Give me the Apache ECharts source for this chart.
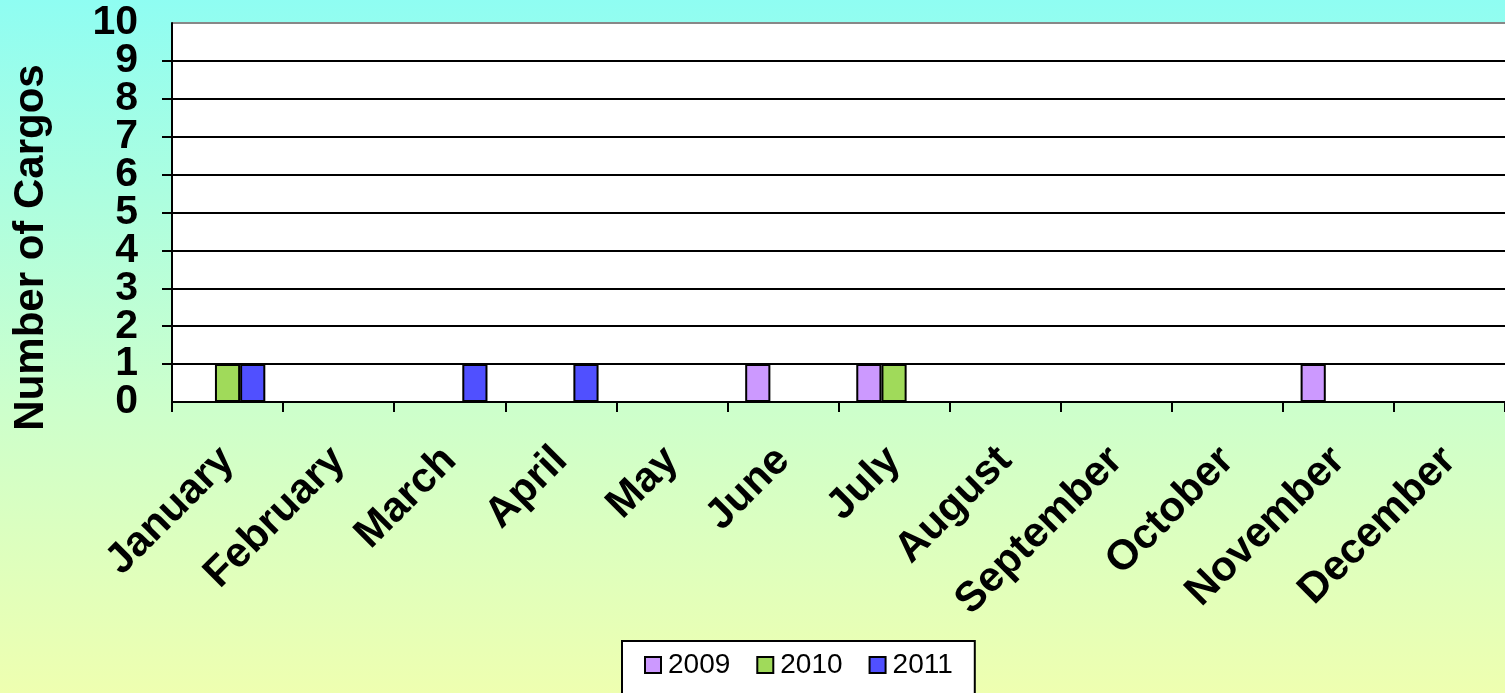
<!DOCTYPE html>
<html>
<head>
<meta charset="utf-8">
<script src="https://cdn.jsdelivr.net/npm/echarts@6/dist/echarts.min.js"></script>
<style>
  html, body { margin: 0; padding: 0; }
  #chart { width: 1505px; height: 693px; }
</style>
</head>
<body>
<div id="chart"></div>
<script>
// months on the x axis
const months = ['January', 'February', 'March', 'April', 'May', 'June',
  'July', 'August', 'September', 'October', 'November', 'December'];

// cargos per month, one array per year
const cargos2009 = [0, 0, 0, 0, 0, 1, 1, 0, 0, 0, 1, 0];
const cargos2010 = [1, 0, 0, 0, 0, 0, 1, 0, 0, 0, 0, 0];
const cargos2011 = [1, 0, 1, 1, 0, 0, 0, 0, 0, 0, 0, 0];

const yTicks = [0, 1, 2, 3, 4, 5, 6, 7, 8, 9, 10];
const yMin = yTicks[0];
const yMax = yTicks[yTicks.length - 1];

const chart = echarts.init(document.getElementById('chart'));

const barStyle = (color) => ({
  color: color,
  borderColor: '#000',
  borderWidth: 2
});

const labelStyle = {
  margin: 34,
  fontSize: 41,
  fontWeight: 'bold',
  color: '#000'
};

const option = {
  backgroundColor: {
    type: 'linear', x: 0, y: 0, x2: 0, y2: 1,
    colorStops: [
      { offset: 0, color: '#8ffdf2' },
      { offset: 0.58, color: '#ccffcc' },
      { offset: 1, color: '#eeffb0' }
    ]
  },
  textStyle: { fontFamily: 'Liberation Sans, Arial, sans-serif' },
  grid: {
    left: 172,
    right: 0,
    top: 23,
    bottom: 291,
    outerBoundsMode: 'none',
    containLabel: false,
    show: true,
    backgroundColor: '#fff',
    borderWidth: 0
  },
  legend: {
    data: ['2009', '2010', '2011'],
    left: 622,
    top: 641,
    itemWidth: 16,
    itemHeight: 16,
    itemGap: 26,
    icon: 'rect',
    backgroundColor: '#fff',
    borderColor: '#000',
    borderWidth: 2,
    borderRadius: 0,
    padding: [10, 22, 20, 22],
    textStyle: { fontSize: 28, color: '#000', padding: [0, 0, 0, 2] },
    itemStyle: { borderColor: '#000', borderWidth: 2 }
  },
  xAxis: {
    type: 'category',
    data: months,
    axisLine: { lineStyle: { color: '#000', width: 2 } },
    axisTick: { show: true, length: 10, lineStyle: { color: '#000', width: 2 } },
    axisLabel: {
      interval: 0,
      rotate: 45,
      margin: 52,
      fontSize: 42,
      fontWeight: 'bold',
      color: '#000'
    }
  },
  yAxis: [
    {
      type: 'value',
      position: 'left',
      min: yMin,
      max: yMax,
      interval: 1,
      name: 'Number of Cargos',
      nameLocation: 'middle',
      nameGap: 120,
      nameTextStyle: {
        fontSize: 42,
        fontWeight: 'bold',
        color: '#000',
        padding: [0, 70, 0, 0]
      },
      axisLine: { show: true, lineStyle: { color: '#000', width: 2 } },
      axisTick: { show: true, length: 10, lineStyle: { color: '#000', width: 2 } },
      // inner labels 1..9 here, the end labels come from the second axis
      axisLabel: Object.assign({ showMinLabel: false, showMaxLabel: false }, labelStyle),
      splitLine: {
        lineStyle: {
          color: ['#000', '#000', '#000', '#000', '#000', '#000',
            '#000', '#000', '#000', '#000', '#888'],
          width: 2
        }
      }
    },
    {
      type: 'value',
      position: 'left',
      offset: 0,
      min: yMin,
      max: yMax,
      interval: 1,
      axisLine: { show: false },
      axisTick: { show: false },
      splitLine: { show: false },
      axisLabel: Object.assign({
        showMinLabel: true,
        showMaxLabel: true,
        formatter: (v) => (v === yMin || v === yMax ? String(v) : '')
      }, labelStyle)
    }
  ],
  series: [
    {
      name: '2009',
      type: 'bar',
      data: cargos2009,
      barGap: '0%',
      barCategoryGap: '32%',
      itemStyle: barStyle('#cc99ff')
    },
    {
      name: '2010',
      type: 'bar',
      data: cargos2010,
      itemStyle: barStyle('#a0da5a')
    },
    {
      name: '2011',
      type: 'bar',
      data: cargos2011,
      itemStyle: barStyle('#5050ff')
    }
  ]
};

chart.setOption(option);

window.addEventListener('resize', () => {
  chart.resize();
});
</script>
</body>
</html>
